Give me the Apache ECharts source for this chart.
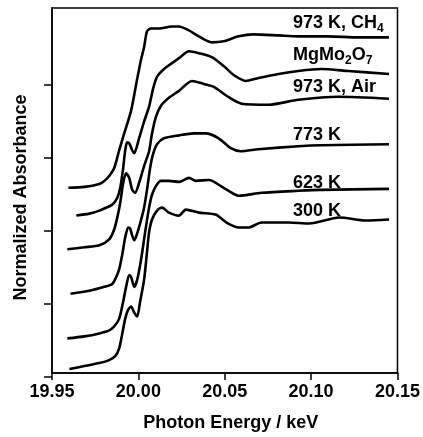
<!DOCTYPE html>
<html>
<head>
<meta charset="utf-8">
<script src="https://cdn.jsdelivr.net/npm/echarts@6.0.0/dist/echarts.min.js"></script>
<style>
  html, body { margin: 0; padding: 0; background: #fff; }
  #chart { width: 423px; height: 437px; }
</style>
</head>
<body>
<div id="chart"></div>
<script>
// spectra, [photon energy keV, normalized absorbance (stacked offset)]
const ch4 = [
  [19.9595, 2.562], [19.9687, 2.575], [19.9774, 2.616], [19.9803, 2.658], [19.9831, 2.726],
  [19.9860, 2.836], [19.9889, 3.082], [19.9918, 3.315], [19.9958, 3.630], [19.9993, 4.068],
  [20.0016, 4.342], [20.0033, 4.507], [20.0050, 4.726], [20.0073, 4.767], [20.0120, 4.767],
  [20.0195, 4.795], [20.0235, 4.795], [20.0293, 4.740], [20.0350, 4.658], [20.0425, 4.575],
  [20.0494, 4.589], [20.0581, 4.658], [20.0667, 4.685], [20.0811, 4.671], [20.0926, 4.658],
  [20.1099, 4.658], [20.1272, 4.644], [20.1451, 4.644]
]
const mgmo = [
  [19.9641, 2.178], [19.9716, 2.205], [19.9774, 2.247], [19.9849, 2.329], [19.9878, 2.425],
  [19.9895, 2.562], [19.9912, 2.836], [19.9924, 3.082], [19.9935, 3.192], [19.9947, 3.178],
  [19.9964, 3.082], [19.9976, 3.041], [20.0004, 3.247], [20.0033, 3.479], [20.0062, 3.685],
  [20.0085, 3.932], [20.0108, 4.096], [20.0148, 4.205], [20.0195, 4.288], [20.0235, 4.356],
  [20.0293, 4.452], [20.0350, 4.425], [20.0425, 4.370], [20.0494, 4.247], [20.0552, 4.123],
  [20.0621, 4.041], [20.0696, 4.082], [20.0811, 4.137], [20.0926, 4.178], [20.1059, 4.205],
  [20.1215, 4.178], [20.1451, 4.137]
]
const air973 = [
  [19.9589, 1.712], [19.9687, 1.740], [19.9774, 1.767], [19.9831, 1.849], [19.9860, 1.986],
  [19.9878, 2.151], [19.9895, 2.356], [19.9912, 2.630], [19.9929, 2.767], [19.9947, 2.699],
  [19.9964, 2.534], [19.9981, 2.493], [20.0004, 2.630], [20.0033, 2.863], [20.0062, 3.068],
  [20.0079, 3.315], [20.0102, 3.548], [20.0131, 3.699], [20.0177, 3.808], [20.0235, 3.904],
  [20.0310, 4.041], [20.0379, 4.000], [20.0437, 3.959], [20.0510, 3.836], [20.0598, 3.726],
  [20.0754, 3.712], [20.0926, 3.781], [20.1157, 3.822], [20.1451, 3.795]
]
const k773 = [
  [19.9607, 1.096], [19.9716, 1.137], [19.9803, 1.192], [19.9849, 1.233], [19.9872, 1.329],
  [19.9889, 1.438], [19.9906, 1.630], [19.9924, 1.877], [19.9941, 2.014], [19.9952, 2.000],
  [19.9964, 1.904], [19.9976, 1.836], [19.9993, 1.932], [20.0016, 2.123], [20.0033, 2.288],
  [20.0050, 2.534], [20.0068, 2.836], [20.0085, 3.027], [20.0108, 3.164], [20.0148, 3.247],
  [20.0235, 3.288], [20.0321, 3.315], [20.0390, 3.315], [20.0465, 3.247], [20.0535, 3.110],
  [20.0592, 3.068], [20.0696, 3.096], [20.0926, 3.137], [20.1059, 3.151], [20.1451, 3.164]
]
const k623 = [
  [19.9589, 0.479], [19.9687, 0.507], [19.9774, 0.548], [19.9831, 0.589], [19.9860, 0.644],
  [19.9889, 0.753], [19.9912, 0.986], [19.9929, 1.192], [19.9947, 1.356], [19.9958, 1.329],
  [19.9976, 1.192], [19.9993, 1.288], [20.0016, 1.575], [20.0039, 1.945], [20.0062, 2.288],
  [20.0079, 2.466], [20.0102, 2.589], [20.0131, 2.658], [20.0177, 2.658], [20.0235, 2.644],
  [20.0293, 2.699], [20.0333, 2.658], [20.0408, 2.671], [20.0494, 2.562], [20.0581, 2.452],
  [20.0713, 2.493], [20.0926, 2.521], [20.1059, 2.534], [20.1451, 2.548]
]
const k300 = [
  [19.9601, 0.055], [19.9687, 0.096], [19.9774, 0.137], [19.9831, 0.178], [19.9866, 0.233],
  [19.9889, 0.342], [19.9906, 0.534], [19.9924, 0.753], [19.9941, 0.877], [19.9958, 0.918],
  [19.9976, 0.836], [19.9993, 0.781], [20.0010, 0.986], [20.0033, 1.288], [20.0050, 1.671],
  [20.0062, 1.945], [20.0079, 2.123], [20.0108, 2.247], [20.0137, 2.288], [20.0177, 2.219],
  [20.0235, 2.178], [20.0275, 2.260], [20.0350, 2.219], [20.0447, 2.192], [20.0510, 2.082],
  [20.0581, 2.014], [20.0638, 2.014], [20.0713, 2.082], [20.0869, 2.082], [20.0990, 2.068],
  [20.1163, 2.151], [20.1318, 2.110], [20.1451, 2.123]
]

// y range and the unlabelled ticks (0..4 shown, none at the top edge)
const yMax = 5.05
const yTickMax = 4

// curve labels: [text, isSubscript] pieces
const seriesNames = ['973 K, CH4', 'MgMo2O7', '973 K, Air', '773 K', '623 K', '300 K']
const labelParts = [
  [['973 K, CH', 0], ['4', 1]],
  [['MgMo', 0], ['2', 1], ['O', 0], ['7', 1]],
  [['973 K, Air', 0]],
  [['773 K', 0]],
  [['623 K', 0]],
  [['300 K', 0]]
]
const labelY = [23, 55, 87, 135, 183, 211]

const FONT = '"Liberation Sans", Arial, Helvetica, sans-serif'
const chart = echarts.init(document.getElementById('chart'))

const ctx = document.createElement('canvas').getContext('2d')
function textW(t, size) {
  ctx.font = 'bold ' + size + 'px ' + FONT
  return ctx.measureText(t).width
}

const graphics = []
labelParts.forEach((parts, i) => {
  let x = 293
  parts.forEach(p => {
    const size = p[1] ? 12 : 18
    graphics.push({
      type: 'text',
      x: x,
      y: labelY[i] + (p[1] ? 6 : 0),
      style: {
        text: p[0],
        font: 'bold ' + size + 'px ' + FONT,
        fill: '#000',
        textAlign: 'left',
        textVerticalAlign: 'middle'
      }
    })
    x += textW(p[0], size)
  })
})

const allData = [ch4, mgmo, air973, k773, k623, k300]

// plot box: top 8, bottom 60 -> 369px for yMax units
const plotTop = 8, plotBottom = 60, plotH = 437 - plotTop - plotBottom
const tickGridTop = plotTop + plotH * (1 - yTickMax / yMax)

chart.setOption({
  animation: false,
  backgroundColor: '#fff',
  textStyle: { fontFamily: FONT },
  grid: [
    {
      left: 52, right: 24, top: plotTop, bottom: plotBottom,
      show: true, borderColor: '#000', borderWidth: 1.5
    },
    { left: 52, right: 24, top: tickGridTop, bottom: plotBottom, show: false }
  ],
  xAxis: [
    {
      type: 'value',
      min: 19.95, max: 20.15, interval: 0.05,
      name: 'Photon Energy / keV',
      nameLocation: 'middle',
      nameGap: 41,
      nameTextStyle: { fontSize: 18, fontWeight: 'bold', color: '#000', padding: [0, 0, 0, 12] },
      axisLine: { lineStyle: { color: '#000', width: 1.5 } },
      axisTick: { inside: false, length: 7, lineStyle: { color: '#000', width: 1.5 } },
      axisLabel: {
        margin: 10, fontSize: 18, fontWeight: 'bold', color: '#000',
        formatter: v => v.toFixed(2)
      },
      splitLine: { show: false }
    },
    { gridIndex: 1, type: 'value', min: 19.95, max: 20.15, show: false }
  ],
  yAxis: [
    {
      type: 'value',
      min: 0, max: yMax,
      name: 'Normalized Absorbance',
      nameLocation: 'middle',
      nameGap: 22,
      nameTextStyle: { fontSize: 18, fontWeight: 'bold', color: '#000', padding: [0, 14, 0, 0] },
      axisLine: { show: true, lineStyle: { color: '#000', width: 1.5 } },
      axisTick: { show: false },
      axisLabel: { show: false },
      splitLine: { show: false }
    },
    {
      // tick marks only
      gridIndex: 1,
      type: 'value',
      min: 0, max: yTickMax, interval: 1,
      axisLine: { show: false },
      axisTick: { show: true, inside: false, length: 8, lineStyle: { color: '#000', width: 1.5 } },
      axisLabel: { show: false },
      splitLine: { show: false }
    }
  ],
  series: allData.map((d, i) => ({
    name: seriesNames[i],
    type: 'line',
    data: d,
    showSymbol: false,
    smooth: 0.25,
    lineStyle: { color: '#000', width: 2.6 }
  })),
  graphic: graphics
})
</script>
</body>
</html>
